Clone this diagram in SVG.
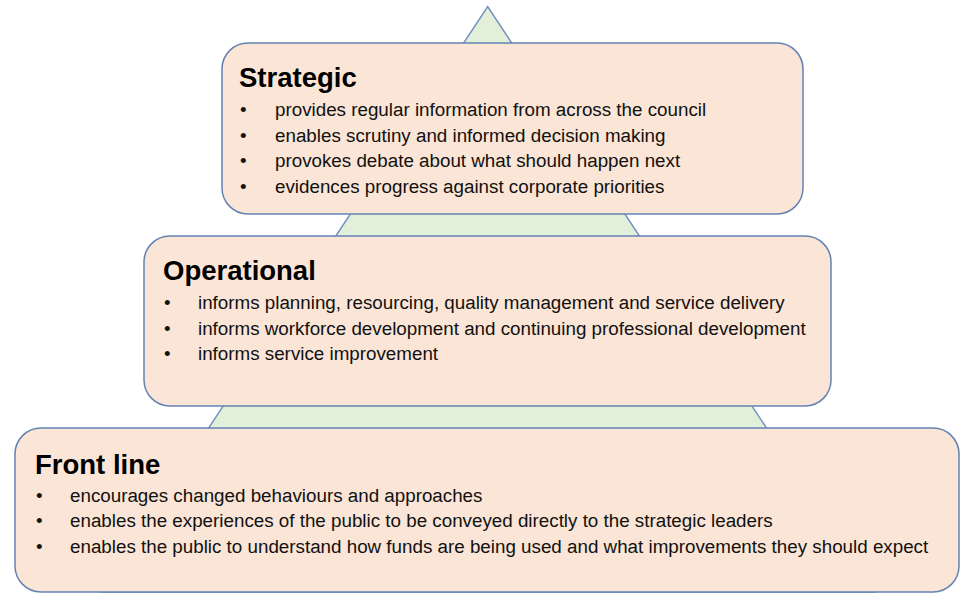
<svg xmlns="http://www.w3.org/2000/svg" width="966" height="595" viewBox="0 0 966 595">
<style>
.box{fill:#fbe5d6;stroke:#6382b4;stroke-width:1.5}
.tri{fill:#e2efd9;stroke:#7290c0;stroke-width:1.5}
.title{font-family:"Liberation Sans",Arial,sans-serif;font-weight:bold;font-size:27.5px;fill:#000}
.item{font-family:"Liberation Sans",Arial,sans-serif;font-size:18.8px;fill:#111}
</style>
<rect width="966" height="595" fill="#ffffff"/>
<g id="pyramid">
<polygon class="tri" points="487.7,6.7 100,592 875,592"/>
</g>
<g id="strategic">
<rect class="box" x="222" y="43" width="581" height="171" rx="26" ry="26"/>
<text class="title" x="239" y="87">Strategic</text>
<text class="item" x="240" y="116">•</text><text class="item" x="275" y="116">provides regular information from across the council</text>
<text class="item" x="240" y="141.5">•</text><text class="item" x="275" y="141.5">enables scrutiny  and informed decision making</text>
<text class="item" x="240" y="167">•</text><text class="item" x="275" y="167">provokes debate about what should happen next</text>
<text class="item" x="240" y="192.5">•</text><text class="item" x="275" y="192.5">evidences progress against corporate priorities</text>
</g>
<g id="operational">
<rect class="box" x="144" y="236" width="687" height="170" rx="26" ry="26"/>
<text class="title" x="163" y="279.5">Operational</text>
<text class="item" x="164" y="309">•</text><text class="item" x="198" y="309">informs planning, resourcing, quality management and service delivery</text>
<text class="item" x="164" y="334.5">•</text><text class="item" x="198" y="334.5">informs workforce development and continuing professional development</text>
<text class="item" x="164" y="360">•</text><text class="item" x="198" y="360">informs service improvement</text>
</g>
<g id="frontline">
<rect class="box" x="15" y="428" width="944" height="164" rx="26" ry="26"/>
<text class="title" x="35" y="473.5">Front line</text>
<text class="item" x="36" y="501.5">•</text><text class="item" x="70" y="501.5">encourages changed behaviours and approaches</text>
<text class="item" x="36" y="527">•</text><text class="item" x="70" y="527">enables the experiences of the public to be conveyed directly to the strategic leaders</text>
<text class="item" x="36" y="552.5">•</text><text class="item" x="70" y="552.5">enables the public to understand  how funds  are being used and what improvements they should expect</text>
</g>
<g id="connectors"/>
</svg>
